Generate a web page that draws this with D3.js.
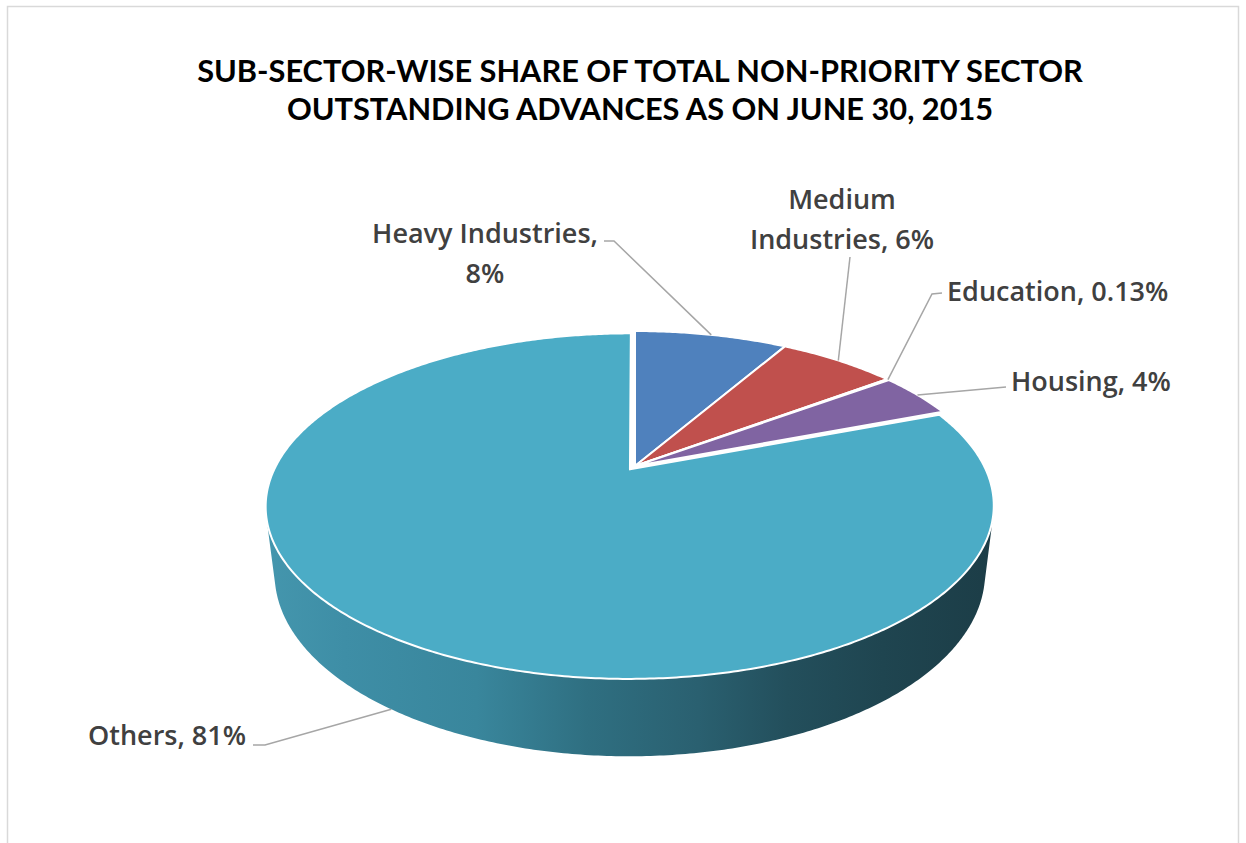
<!DOCTYPE html>
<html>
<head>
<meta charset="utf-8">
<script src="https://cdnjs.cloudflare.com/ajax/libs/d3/7.8.5/d3.min.js"></script>
<style>
  html, body { margin: 0; padding: 0; background: #ffffff; }
  svg { display: block; }
</style>
</head>
<body>
<svg id="chart" width="1246" height="843"></svg>
<script>
// Sub-sector shares of non-priority sector outstanding advances (per cent)
const categories = ["Heavy Industries", "Medium Industries", "Education", "Housing", "Others"];
const shares = [8.35, 6.45, 0.13, 4.27, 80.8];
const colors = ["#4f81bd", "#c0504d", "#9bbb59", "#8064a2", "#4bacc6"];
const titleLines = [
  "SUB-SECTOR-WISE SHARE OF TOTAL NON-PRIORITY SECTOR",
  "OUTSTANDING ADVANCES AS ON JUNE 30, 2015"
];

const W = 1246, H = 843;
const svg = d3.select("#chart");

// chart area frame
svg.append("rect")
  .attr("x", 7.5).attr("y", 6.5)
  .attr("width", 1231).attr("height", 850)
  .attr("fill", "#ffffff")
  .attr("stroke", "#d9d9d9").attr("stroke-width", 1.5);

// title
const title = svg.append("g");
const titleBase = [82, 120];
titleLines.forEach((t, i) => {
  title.append("text")
    .attr("x", 640).attr("y", titleBase[i])
    .attr("text-anchor", "middle")
    .attr("font-family", "Lato, 'Open Sans', sans-serif")
    .attr("font-weight", 700)
    .attr("font-size", 25)
    .attr("fill", "#000000")
    .text(t);
});
// scale title so the first line spans the intended width
{
  const t0 = title.select("text").node();
  const w0 = t0.getComputedTextLength();
  const fs = 25 * 886 / w0;
  title.selectAll("text").attr("font-size", fs);
}

// ---- 3D pie projection ----
const cx = 635, cy = 466;          // screen position of pie centre
const tilt = 27.5 * Math.PI / 180; // elevation of the view
const sa = Math.sin(tilt), ca = Math.cos(tilt);
const camD = 4.19;                 // camera distance (in radii)
const focal = 1484;                // focal length in pixels
const thick = 0.215;               // pie thickness (in radii)

function proj(u, v, h) {
  const yc = v * sa + h * ca;
  const zc = camD + v * ca - h * sa;
  return [cx + focal * u / zc, cy - focal * yc / zc];
}

const pie = d3.pie().sort(null).value(d => d.value);
const arcs = pie(categories.map((c, i) => ({ name: c, value: shares[i], color: colors[i] })));

// the large slice is pulled out slightly from the centre
const explode = [0, 0, 0, 0, 0.025];

arcs.forEach((a, i) => {
  const mid = (a.startAngle + a.endAngle) / 2;
  a.ox = explode[i] * Math.sin(mid);
  a.oy = explode[i] * Math.cos(mid);
  a.mid = mid;
});

function rimPoint(a, ang, h) {
  return proj(a.ox + Math.sin(ang), a.oy + Math.cos(ang), h);
}

function sampleAngles(a0, a1) {
  const n = Math.max(2, Math.ceil(Math.abs(a1 - a0) / 0.01));
  return d3.range(n + 1).map(k => a0 + (a1 - a0) * k / n);
}

const line = d3.line();

// side walls: visible where the outer surface faces the camera
const visLimit = Math.acos(-1 / (camD * ca));
const visA0 = visLimit, visA1 = 2 * Math.PI - visLimit;

const defs = svg.append("defs");
const grad = defs.append("linearGradient")
  .attr("id", "sideGrad")
  .attr("gradientUnits", "userSpaceOnUse");

const sideG = svg.append("g");
const topG = svg.append("g");

arcs.forEach(a => {
  const s = Math.max(a.startAngle, visA0), e = Math.min(a.endAngle, visA1);
  if (e <= s) return;
  const angs = sampleAngles(s, e);
  const pts = angs.map(t => rimPoint(a, t, 0))
    .concat(angs.slice().reverse().map(t => rimPoint(a, t, -thick)));
  const xs = pts.map(p => p[0]);
  grad.attr("x1", d3.min(xs) - 10).attr("x2", d3.max(xs)).attr("y1", 0).attr("y2", 0);
  sideG.append("path")
    .attr("d", line(pts) + "Z")
    .attr("fill", "url(#sideGrad)");
});

[["0", "#4597ae"], ["0.12", "#3e8ea6"], ["0.3", "#39869c"], ["0.45", "#2f6f81"],
 ["0.6", "#2a6070"], ["0.72", "#234f5c"], ["0.85", "#1f4550"], ["1", "#1c3d47"]]
  .forEach(([o, c]) => grad.append("stop").attr("offset", o).attr("stop-color", c));

// top faces
arcs.forEach(a => {
  const angs = sampleAngles(a.startAngle, a.endAngle);
  const pts = [proj(a.ox, a.oy, 0)].concat(angs.map(t => rimPoint(a, t, 0)));
  topG.append("path")
    .attr("d", line(pts) + "Z")
    .attr("fill", a.data.color)
    .attr("stroke", "#ffffff")
    .attr("stroke-width", 2)
    .attr("stroke-linejoin", "round");
});

// ---- data labels with leader lines ----
const fmt = v => v < 1 ? v.toFixed(2) + "%" : Math.round(v) + "%";
const labelText = arcs.map(a => a.data.name + ", " + fmt(a.data.value));

// label placement: text lines, anchor, and the leader path from the label
const layout = [
  { lines: [arcs[0].data.name + ",", fmt(arcs[0].data.value)], x: 485, y: 243, anchor: "middle",
    lead: [[604, 241], [614, 241]], onSide: false },
  { lines: ["Medium", "Industries, " + fmt(arcs[1].data.value)], x: 842, y: 209, anchor: "middle",
    lead: [[850, 257]], onSide: false },
  { lines: [labelText[2]], x: 947, y: 301, anchor: "start",
    lead: [[942, 293], [932, 294]], onSide: false },
  { lines: [labelText[3]], x: 1011, y: 391, anchor: "start",
    lead: [[1006, 387]], onSide: false },
  { lines: [labelText[4]], x: 88, y: 745, anchor: "start",
    lead: [[253, 745], [265, 745]], onSide: true }
];

const labelG = svg.append("g");
const leadG = svg.append("g");

arcs.forEach((a, i) => {
  const L = layout[i];
  const end = L.onSide ? rimPoint(a, a.mid, -thick) : rimPoint(a, a.mid, 0);
  leadG.append("path")
    .attr("d", line(L.lead.concat([end])))
    .attr("fill", "none")
    .attr("stroke", "#a6a6a6")
    .attr("stroke-width", 1.5);
  const t = labelG.append("text")
    .attr("font-family", "'Open Sans', Lato, sans-serif")
    .attr("font-size", 27)
    .attr("font-weight", 600)
    .attr("fill", "#404040")
    .attr("text-anchor", L.anchor);
  L.lines.forEach((ln, k) => {
    t.append("tspan").attr("x", L.x).attr("y", L.y + k * 40).text(ln);
  });
});
</script>
</body>
</html>
